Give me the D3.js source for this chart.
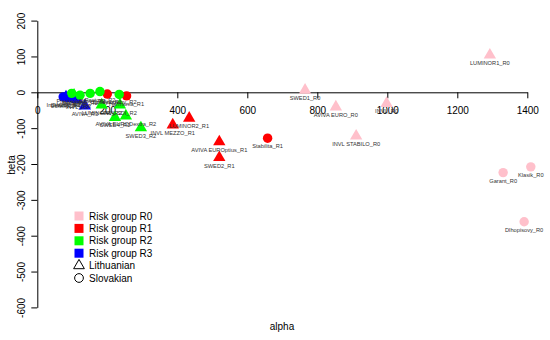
<!DOCTYPE html>
<html>
<head>
<meta charset="utf-8">
<script src="https://cdn.jsdelivr.net/npm/d3@7"></script>
<style>
  body { margin: 0; background: #fff; }
  svg text { font-family: "Liberation Sans", Arial, sans-serif; }
</style>
</head>
<body>
<svg id="chart" width="550" height="340"></svg>
<script>
// fund labels, alpha, beta, risk group, country
var names = [
  'LUMINOR1_R0', 'SWED1_R0', 'AVIVA EURO_R0', 'INVL_R0', 'INVL STABILO_R0',
  'LUMINOR2_R1', 'INVL MEZZO_R1', 'AVIVA EUROptius_R1', 'SWED2_R1',
  'SWED3_R2', 'AVIVA EURODextra_R2', 'SWED4_R2', 'INVL SDI_R2', 'LUMINOR3_R2', 'INVL_R2',
  'SWED5_R3', 'LUMINOR4_R3', 'INVL_R3', 'AVIVA_R3',
  'Garant_R0', 'Klasik_R0', 'Dlhopisovy_R0',
  'Stabilita_R1', 'Solidita_R1', 'Harmonia_R1',
  'Progres_R2', 'Dynamika_R2', 'Akciovy_R2', 'Rastovy_R2', 'Vyvazeny_R2',
  'Indexovy_R3'
];
var alpha = [
  1293, 765, 853, 998, 911,
  434, 387, 520, 520,
  296, 253, 222, 236, 184, 105,
  82, 96, 114, 136,
  1331, 1410, 1391,
  658, 200, 255,
  98, 122, 151, 179, 234,
  74
];
var beta = [
  104, 6, -41, -31, -122,
  -72, -91, -138, -182,
  -99, -66, -70, -35, -35, -8,
  -13, -17, -20, -38,
  -224, -208, -361,
  -128, -5, -10,
  -3, -8, -3, 2, -6,
  -13
];
var group = [
  'R0', 'R0', 'R0', 'R0', 'R0',
  'R1', 'R1', 'R1', 'R1',
  'R2', 'R2', 'R2', 'R2', 'R2', 'R2',
  'R3', 'R3', 'R3', 'R3',
  'R0', 'R0', 'R0',
  'R1', 'R1', 'R1',
  'R2', 'R2', 'R2', 'R2', 'R2',
  'R3'
];
var country = [
  'LT', 'LT', 'LT', 'LT', 'LT',
  'LT', 'LT', 'LT', 'LT',
  'LT', 'LT', 'LT', 'LT', 'LT', 'LT',
  'LT', 'LT', 'LT', 'LT',
  'SK', 'SK', 'SK',
  'SK', 'SK', 'SK',
  'SK', 'SK', 'SK', 'SK', 'SK',
  'SK'
];

var groups = ['R0', 'R1', 'R2', 'R3'];
var groupColors = ['#ffc0cb', '#ff0000', '#00ff00', '#0000ff'];
var xTicks = [0, 200, 400, 600, 800, 1000, 1200, 1400];
var yTicks = [-600, -500, -400, -300, -200, -100, 0, 100, 200];

var svg = d3.select('#chart');

var x = d3.scaleLinear().domain([0, 1400]).range([37.3, 527.3]);
var y = d3.scaleLinear().domain([200, -600]).range([20.6, 307.4]);
var color = d3.scaleOrdinal().domain(groups).range(groupColors);

var points = names.map(function (n, i) {
  return { name: n, a: alpha[i], b: beta[i], g: group[i], c: country[i] };
});

// axes cross at the origin, as in the R plot
var xAxis = svg.append('g')
  .attr('transform', 'translate(0,' + y(0) + ')')
  .call(d3.axisBottom(x).tickValues(xTicks).tickFormat(String)
    .tickSize(6).tickPadding(8.5).tickSizeOuter(0));

var yAxis = svg.append('g')
  .attr('transform', 'translate(' + x(0) + ',0)')
  .call(d3.axisLeft(y).tickValues(yTicks).tickFormat(String)
    .tickSize(6).tickSizeOuter(0));

[xAxis, yAxis].forEach(function (g) {
  g.selectAll('path, line').attr('stroke', '#000');
  g.selectAll('text').attr('font-size', 10).attr('fill', '#000')
    .style('font-family', '"Liberation Sans", Arial, sans-serif');
});

yAxis.selectAll('.tick text')
  .attr('x', null)
  .attr('dy', '0.35em')
  .attr('text-anchor', 'middle')
  .attr('transform', 'translate(-16,0) rotate(-90)');

var sym = d3.symbol();

svg.append('g').selectAll('path')
  .data(points)
  .join('path')
  .attr('transform', function (d) { return 'translate(' + x(d.a) + ',' + y(d.b) + ')'; })
  .attr('d', function (d) {
    return d.c === 'LT'
      ? sym.type(d3.symbolTriangle).size(66)()
      : sym.type(d3.symbolCircle).size(70)();
  })
  .attr('fill', function (d) { return color(d.g); });

svg.append('g').selectAll('text')
  .data(points)
  .join('text')
  .attr('x', function (d) { return x(d.a); })
  .attr('y', function (d) { return y(d.b) + 10; })
  .attr('text-anchor', 'middle')
  .attr('font-size', 5.7)
  .attr('fill', '#333')
  .text(function (d) { return d.name; });

// axis titles
svg.append('text')
  .attr('x', 282).attr('y', 330)
  .attr('text-anchor', 'middle')
  .attr('font-size', 10)
  .text('alpha');

svg.append('text')
  .attr('transform', 'translate(15,165) rotate(-90)')
  .attr('text-anchor', 'middle')
  .attr('font-size', 10)
  .text('beta');

// legend
var legendItems = groups.map(function (g) { return { label: 'Risk group ' + g, g: g }; })
  .concat([{ label: 'Lithuanian', shape: 'LT' }, { label: 'Slovakian', shape: 'SK' }]);

var legend = svg.append('g').attr('transform', 'translate(79,216)');
var rows = legend.selectAll('g')
  .data(legendItems)
  .join('g')
  .attr('transform', function (d, i) { return 'translate(0,' + (i * 12.4) + ')'; });

rows.filter(function (d) { return d.g; })
  .append('rect')
  .attr('x', -4.5).attr('y', -4.5)
  .attr('width', 9).attr('height', 9)
  .attr('fill', function (d) { return color(d.g); });

rows.filter(function (d) { return d.shape; })
  .append('path')
  .attr('d', function (d) {
    return d.shape === 'LT'
      ? sym.type(d3.symbolTriangle).size(50)()
      : sym.type(d3.symbolCircle).size(60)();
  })
  .attr('fill', 'none')
  .attr('stroke', '#000')
  .attr('stroke-width', 1);

rows.append('text')
  .attr('x', 10).attr('dy', '0.35em')
  .attr('font-size', 10)
  .text(function (d) { return d.label; });
</script>
</body>
</html>
